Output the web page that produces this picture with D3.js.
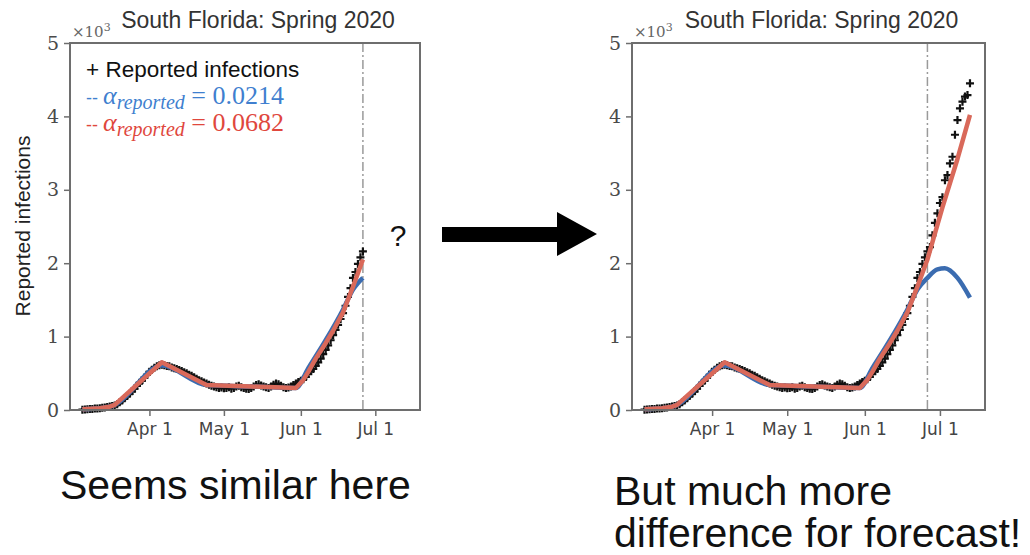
<!DOCTYPE html>
<html>
<head>
<meta charset="utf-8">
<script src="https://cdn.jsdelivr.net/npm/d3@7"></script>
<style>
  body { margin: 0; background: #fff; }
  svg { display: block; }
  .frame { fill: none; stroke: #6e6e6e; stroke-width: 2; }
  .tick line { stroke: #6e6e6e; stroke-width: 1.5; }
  .ylab text { font-family: "DejaVu Serif", serif; font-size: 19px; fill: #4a4a4a; }
  .xlab text { font-family: "DejaVu Sans", sans-serif; font-size: 17px; fill: #444; }
</style>
</head>
<body>
<svg id="chart" width="1030" height="555"></svg>
<script>
// ---- data ----
var title = 'South Florida: Spring 2020';
var yTicks = [0, 1000, 2000, 3000, 4000, 5000];
var xTickDates = ['2020-04-01', '2020-05-01', '2020-06-01', '2020-07-01'];
var xDomain = ['2020-02-29', '2020-07-19'];
var cutoffDate = '2020-06-26';

// daily reported infections starting at reportedStart
var reportedStart = '2020-03-05';
var reported = [
    5, 8, 10, 12, 15, 20, 22, 25, 30, 35, 40, 48, 55,
    60, 80, 105, 130, 160, 190, 220, 255, 290, 330, 370, 400, 440, 480, 520, 550, 575, 595, 610, 615,
    610, 600, 595, 580, 570, 560, 545, 530, 515, 500, 480, 465, 445, 425, 405, 390, 375, 360,
    345, 330, 320, 310, 300, 305,
    295, 300, 310, 290, 300, 320, 330, 310, 300, 290, 285, 300, 320, 340, 350, 335, 320, 310, 300, 320,
    345, 360, 350, 330, 310, 300, 305, 320, 340, 360,
    380, 400, 420, 450, 490, 530, 560, 600, 650, 700, 760, 820, 880, 950, 1020, 1090, 1160, 1240,
    1320, 1420, 1540, 1660, 1800, 1880, 1990, 2080, 2160, 2220,
    2380, 2550, 2680, 2820, 2900, 3130, 3200, 3360, 3450, 3750, 3950, 4110, 4200, 4270, 4290, 4450
];

// model fits
var redDates = ['2020-03-05', '2020-03-12', '2020-03-16', '2020-03-18', '2020-04-06', '2020-04-24',
    '2020-05-12', '2020-05-30', '2020-06-02', '2020-06-04', '2020-06-07', '2020-06-11', '2020-06-14',
    '2020-06-18', '2020-06-22', '2020-06-26', '2020-07-02', '2020-07-08', '2020-07-13'];
var redValues = [10, 25, 45, 70, 650, 340, 320, 300, 410, 520, 700, 910, 1080, 1330, 1680, 2050,
    2760, 3420, 4020];

var blueDates = ['2020-03-05', '2020-03-12', '2020-03-16', '2020-03-18', '2020-04-06', '2020-04-24',
    '2020-05-12', '2020-05-30', '2020-06-04', '2020-06-11', '2020-06-18', '2020-06-22', '2020-06-26',
    '2020-06-30', '2020-07-03', '2020-07-08', '2020-07-13'];
var blueValues = [10, 25, 45, 70, 605, 340, 320, 300, 570, 950, 1370, 1640, 1800, 1915, 1930, 1800, 1530];

var legendItems = ['0.0214', '0.0682'];

var parse = d3.timeParse('%Y-%m-%d');
var cutoff = parse(cutoffDate);
var start = parse(reportedStart);
var points = reported.map(function(v, i) {
    return { date: d3.timeDay.offset(start, i), value: v };
});
function zipSeries(dates, values) {
    return dates.map(function(d, i) { return { date: parse(d), value: values[i] }; });
}
var red = zipSeries(redDates, redValues);
var blue = zipSeries(blueDates, blueValues);

var svg = d3.select('#chart');
svg.append('rect').attr('width', 1030).attr('height', 555).attr('fill', '#fff');

function drawPanel(left, right, full) {
    var top = 43, bottom = 410;
    var x = d3.scaleTime().domain(xDomain.map(parse)).range([left, right]);
    var y = d3.scaleLinear().domain([0, 5000]).range([bottom, top]);
    var g = svg.append('g');

    var keep = function(d) { return full || d.date <= cutoff; };

    // y axis
    g.append('g').attr('class', 'ylab')
        .attr('transform', 'translate(' + left + ',0)')
        .call(d3.axisLeft(y).tickValues(yTicks).tickSize(6).tickPadding(5)
            .tickFormat(function(d) { return d / 1000; }))
        .call(function(a) { a.select('.domain').remove(); });

    // x axis
    g.append('g').attr('class', 'xlab')
        .attr('transform', 'translate(0,' + bottom + ')')
        .call(d3.axisBottom(x).tickValues(xTickDates.map(parse)).tickSize(6).tickPadding(7)
            .tickFormat(d3.timeFormat('%b %-d')))
        .call(function(a) { a.select('.domain').remove(); });

    // cutoff line
    g.append('line')
        .attr('x1', x(cutoff)).attr('x2', x(cutoff))
        .attr('y1', top).attr('y2', bottom)
        .attr('stroke', '#9a9a9a').attr('stroke-width', 1.5)
        .attr('stroke-dasharray', '9,3,2,3');

    var smooth = d3.line()
        .x(function(d) { return x(d.date); })
        .y(function(d) { return y(d.value); })
        .curve(d3.curveMonotoneX);
    var straight = d3.line()
        .x(function(d) { return x(d.date); })
        .y(function(d) { return y(d.value); });

    // reported points
    g.append('g').selectAll('path').data(points.filter(keep)).enter().append('path')
        .attr('d', 'M-4,0H4M0,-4V4')
        .attr('transform', function(d) { return 'translate(' + x(d.date) + ',' + y(d.value) + ')'; })
        .attr('stroke', '#111').attr('stroke-width', 2.2);

    g.append('path').datum(blue.filter(keep))
        .attr('d', smooth).attr('fill', 'none')
        .attr('stroke', '#3b6cb0').attr('stroke-width', 4.5);
    g.append('path').datum(red.filter(keep))
        .attr('d', straight).attr('fill', 'none')
        .attr('stroke', '#d9695a').attr('stroke-width', 4.5)
        .attr('stroke-linejoin', 'round');

    // frame
    g.append('rect').attr('class', 'frame')
        .attr('x', left).attr('y', top)
        .attr('width', right - left).attr('height', bottom - top);

    // title and multiplier
    g.append('text')
        .attr('x', (left + right) / 2 + 13).attr('y', 28)
        .attr('text-anchor', 'middle')
        .style('font-family', 'Liberation Sans, Arial, sans-serif')
        .style('font-size', '23px').attr('fill', '#333')
        .text(title);
    var m = g.append('text')
        .attr('x', left + 2).attr('y', 37)
        .style('font-family', 'DejaVu Serif, serif')
        .style('font-size', '15px').attr('fill', '#666');
    m.append('tspan').text('\u00d710');
    m.append('tspan').attr('dy', -6).style('font-size', '11px').text('3');

    return { x: x, y: y, g: g };
}

drawPanel(70, 420, false);
drawPanel(632, 985, true);

// y label
svg.append('text')
    .attr('transform', 'translate(30,226) rotate(-90)')
    .attr('text-anchor', 'middle')
    .style('font-family', 'Liberation Sans, Arial, sans-serif')
    .style('font-size', '21px').attr('fill', '#222')
    .text('Reported infections');

// legend
var lg = svg.append('g');
lg.append('text').attr('x', 86).attr('y', 77)
    .style('font-family', 'Liberation Sans, Arial, sans-serif')
    .style('font-size', '22.5px').attr('fill', '#111')
    .text('+ Reported infections');
var legendColors = ['#3f7fcf', '#e0473d'];
legendItems.forEach(function(v, i) {
    var t = lg.append('text').attr('x', 86).attr('y', 104 + i * 27)
        .attr('fill', legendColors[i])
        .style('font-family', 'Liberation Serif, serif')
        .style('font-size', '26px');
    t.append('tspan').style('font-family', 'Liberation Sans, sans-serif').style('font-size', '18px').text('-- ');
    t.append('tspan').style('font-style', 'italic').text('\u03b1');
    t.append('tspan').attr('dy', 5).style('font-style', 'italic').style('font-size', '20px').text('reported');
    t.append('tspan').attr('dy', -5).text(' = ' + v);
});

// question mark
svg.append('text').attr('x', 398).attr('y', 246)
    .attr('text-anchor', 'middle')
    .style('font-family', 'Liberation Sans, Arial, sans-serif')
    .style('font-size', '30px').attr('fill', '#111')
    .text('?');

// arrow
svg.append('path')
    .attr('d', 'M442,227 L557,227 L557,212 L597,234 L557,256 L557,242 L442,242 Z')
    .attr('fill', '#000');

// captions
var capFont = 'Liberation Sans, Arial, sans-serif';
svg.append('text').attr('x', 60).attr('y', 499).attr('fill', '#111')
    .style('font-family', capFont).style('font-size', '41px')
    .text('Seems similar here');
var cap2 = svg.append('text').attr('x', 614).attr('y', 505).attr('fill', '#111')
    .style('font-family', capFont).style('font-size', '41px');
cap2.append('tspan').attr('x', 614).text('But much more');
cap2.append('tspan').attr('x', 614).attr('dy', 42).text('difference for forecast!');
</script>
</body>
</html>
